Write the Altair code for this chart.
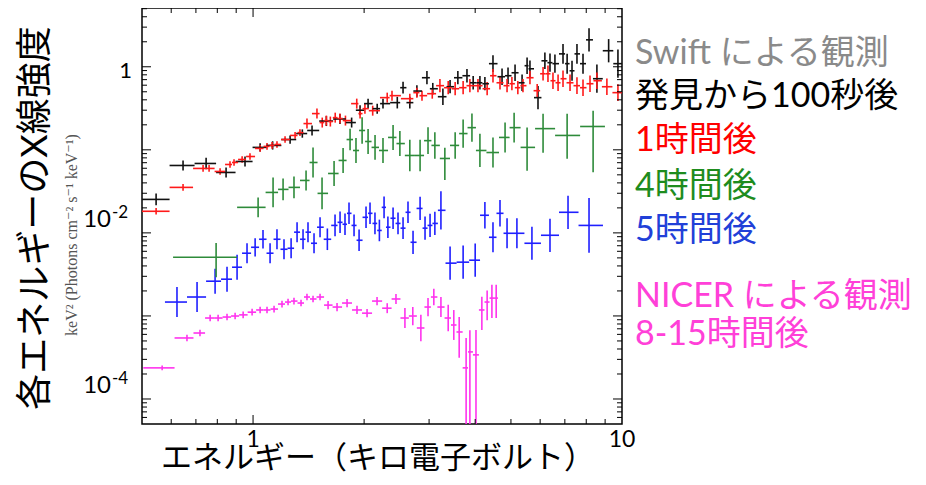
import math
import altair as alt
import pandas as pd

# ---------------- data ----------------
# Swift, 100 s after discovery (black)
black_x = [0.546, 0.646, 0.746, 0.845, 0.951, 1.045, 1.13, 1.26, 1.36, 1.445, 1.58, 1.72, 1.85, 1.95,
           2.05, 2.17, 2.25, 2.46, 2.55, 2.66, 2.78, 2.96, 3.07, 3.27, 3.42, 3.59, 3.80, 3.95, 4.12,
           4.25, 4.47, 4.73, 4.91, 5.13, 5.36, 5.53, 5.63, 5.92, 6.18, 6.38, 6.58, 6.92, 7.10, 7.32,
           7.55, 7.84, 8.14, 8.55, 9.20, 9.75]
black_y = [0.0253, 0.0648, 0.0685, 0.0534, 0.0724, 0.107, 0.113, 0.133, 0.157, 0.171, 0.222, 0.235,
           0.213, 0.300, 0.360, 0.313, 0.360, 0.370, 0.560, 0.370, 0.510, 0.738, 0.544, 0.436, 0.575,
           0.738, 0.780, 0.642, 0.642, 0.625, 1.09, 0.759, 0.780, 0.847, 0.642, 1.03, 0.946, 0.425,
           1.18, 1.12, 1.09, 1.43, 1.09, 0.895, 1.43, 1.09, 2.11, 0.718, 1.56, 1.09]
black_err = [0.07, 0.06, 0.07, 0.06, 0.06, 0.05, 0.05, 0.05, 0.05, 0.06, 0.06, 0.06, 0.06, 0.06,
             0.06, 0.06, 0.06, 0.07, 0.07, 0.07, 0.07, 0.08, 0.07, 0.10, 0.08, 0.08, 0.08, 0.08, 0.08,
             0.08, 0.10, 0.10, 0.10, 0.10, 0.10, 0.10, 0.10, 0.14, 0.10, 0.11, 0.11, 0.12, 0.12, 0.12,
             0.12, 0.12, 0.14, 0.17, 0.14, 0.17]

# Swift, 1 hour after (red)
red_x = [0.546, 0.646, 0.732, 0.760, 0.814, 0.866, 0.888, 0.934, 0.981, 1.045, 1.091, 1.126, 1.161,
         1.221, 1.30, 1.34, 1.40, 1.49, 1.54, 1.58, 1.62, 1.67, 1.72, 1.78, 1.91, 1.95, 2.01, 2.11,
         2.31, 2.38, 2.66, 2.78, 2.87, 3.06, 3.21, 3.38, 3.53, 3.71, 3.87, 4.07, 4.31, 4.47, 4.67,
         4.88, 5.03, 5.22, 5.39, 5.63, 5.89, 6.11, 6.30, 6.50, 6.71, 6.92, 7.23, 7.55, 7.84, 8.19,
         8.55, 9.10, 9.75]
red_y = [0.0182, 0.0353, 0.0597, 0.0597, 0.0549, 0.0666, 0.0704, 0.0765, 0.0831, 0.104, 0.110, 0.113,
         0.116, 0.133, 0.149, 0.161, 0.207, 0.273, 0.213, 0.225, 0.219, 0.244, 0.238, 0.225, 0.360,
         0.273, 0.313, 0.296, 0.425, 0.449, 0.413, 0.488, 0.449, 0.474, 0.592, 0.560, 0.544, 0.560,
         0.592, 0.592, 0.544, 0.780, 0.642, 0.592, 0.625, 0.560, 0.592, 0.738, 0.515, 0.824, 0.824,
         0.679, 0.642, 0.718, 0.642, 0.592, 0.560, 0.625, 0.679, 0.575, 0.488]
red_err = [0.04] * 16 + [0.06] * 18 + [0.08] * 16 + [0.10] * 11

# Swift, 4 hours after (green)
green_x = [0.794, 1.032, 1.133, 1.206, 1.291, 1.392, 1.454, 1.538, 1.658, 1.754, 1.832, 1.901, 1.975,
           2.05, 2.141, 2.25, 2.396, 2.50, 2.66, 2.836, 2.98, 3.11, 3.31, 3.53, 3.71, 3.92, 4.12,
           4.47, 4.82, 5.10, 5.53, 6.11, 7.10, 8.35]
green_y = [0.00509, 0.0203, 0.0307, 0.0334, 0.0353, 0.0428, 0.0704, 0.0299, 0.0519, 0.0745, 0.133,
           0.0982, 0.171, 0.126, 0.107, 0.0982, 0.141, 0.119, 0.0855, 0.0855, 0.129, 0.113, 0.0787,
           0.113, 0.157, 0.185, 0.0982, 0.0928, 0.141, 0.185, 0.107, 0.180, 0.149, 0.191]
green_up = [0.17, 0.12, 0.18, 0.13, 0.13, 0.12, 0.18, 0.19, 0.15, 0.15, 0.13, 0.15, 0.16, 0.15, 0.15,
            0.15, 0.15, 0.15, 0.19, 0.19, 0.16, 0.16, 0.13, 0.16, 0.17, 0.17, 0.20, 0.18, 0.18, 0.18,
            0.24, 0.18, 0.26, 0.19]
green_dn = [0.24, 0.12, 0.18, 0.13, 0.13, 0.12, 0.18, 0.19, 0.15, 0.15, 0.13, 0.15, 0.16, 0.15, 0.15,
            0.15, 0.15, 0.15, 0.19, 0.19, 0.16, 0.16, 0.26, 0.16, 0.17, 0.17, 0.20, 0.18, 0.18, 0.18,
            0.28, 0.29, 0.28, 0.55]

# Swift, 5 hours after (blue)
blue_x = [0.622, 0.705, 0.789, 0.850, 0.905, 0.963, 1.013, 1.064, 1.112, 1.161, 1.213, 1.268, 1.316,
          1.366, 1.409, 1.463, 1.519, 1.590, 1.668, 1.721, 1.775, 1.82, 1.878, 1.938, 2.024, 2.075,
          2.14, 2.20, 2.265, 2.32, 2.396, 2.471, 2.55, 2.63, 2.714, 2.836, 2.925, 3.018, 3.11, 3.23,
          3.42, 3.71, 4.00, 4.25, 4.47, 4.67, 4.88, 5.19, 5.70, 6.38, 7.14, 8.14]
blue_y = [0.00147, 0.00169, 0.00262, 0.00277, 0.00386, 0.00569, 0.00671, 0.00838, 0.00569, 0.00838,
          0.00635, 0.00653, 0.0102, 0.00838, 0.0102, 0.00750, 0.0117, 0.00838, 0.0123, 0.0134,
          0.0127, 0.0172, 0.0123, 0.00815, 0.0154, 0.0172, 0.0130, 0.0107, 0.0203, 0.0117, 0.0150,
          0.0130, 0.0114, 0.0177, 0.00771, 0.0197, 0.0114, 0.0123, 0.0130, 0.0187, 0.00432, 0.00444,
          0.00469, 0.0163, 0.00885, 0.0172, 0.00989, 0.00989, 0.00750, 0.00936, 0.0177, 0.0123]
blue_err = [0.18, 0.18, 0.15, 0.15, 0.15, 0.12, 0.11, 0.11, 0.12, 0.12, 0.12, 0.12, 0.12, 0.12, 0.12,
            0.12, 0.12, 0.13, 0.13, 0.13, 0.13, 0.13, 0.13, 0.13, 0.13, 0.13, 0.13, 0.13, 0.13, 0.13,
            0.13, 0.13, 0.13, 0.13, 0.14, 0.14, 0.14, 0.14, 0.14, 0.23, 0.20, 0.20, 0.20, 0.16, 0.18,
            0.16, 0.18, 0.18, 0.20, 0.20, 0.20, 0.33]

# NICER, 8-15 hours after (magenta)
mag_x = [0.567, 0.662, 0.718, 0.765, 0.804, 0.850, 0.894, 0.940, 0.994, 1.045, 1.091, 1.140, 1.198,
         1.244, 1.291, 1.349, 1.400, 1.454, 1.519, 1.597, 1.689, 1.798, 1.913, 2.037, 2.168, 2.31,
         2.44, 2.58, 2.71, 2.85, 2.98, 3.09, 3.23, 3.38, 3.50, 3.62, 3.78, 3.87, 4.02, 4.17, 4.31,
         4.44, 4.56]
mag_y = [2.37e-4, 5.43e-4, 6.23e-4, 9.44e-4, 9.44e-4, 9.70e-4, 9.98e-4, 1.03e-3, 1.11e-3, 1.18e-3,
         1.18e-3, 1.21e-3, 1.39e-3, 1.47e-3, 1.51e-3, 1.43e-3, 1.69e-3, 1.60e-3, 1.69e-3, 1.35e-3,
         1.28e-3, 1.43e-3, 1.18e-3, 1.08e-3, 1.51e-3, 1.24e-3, 1.60e-3, 9.44e-4, 9.98e-4, 7.16e-4,
         1.28e-3, 1.69e-3, 1.28e-3, 9.44e-4, 7.78e-4, 6.41e-4, 2.37e-4, 3.69e-4, 3.40e-4, 1.18e-3,
         1.47e-3, 1.64e-3, 1.64e-3]
mag_up = [0.03] + [0.04] * 18 + [0.05] * 6 + [0.06, 0.06, 0.12, 0.11, 0.16, 0.11, 0.10, 0.12, 0.16,
                                              0.18, 0.18, 0.36, 0.26, 0.30, 0.16, 0.14, 0.16, 0.16]
mag_dn = [0.03] + [0.04] * 18 + [0.05] * 6 + [0.06, 0.06, 0.12, 0.11, 0.16, 0.11, 0.10, 0.12, 0.16,
                                              0.18, 0.31, 3.0, 3.0, 3.0, 0.24, 0.22, 0.24, 0.24]

# outer energy-bin edges of each spectrum (keV)
first_lo = {"black": 0.50, "red": 0.50, "green": 0.607, "blue": 0.577, "magenta": 0.504}
last_hi = {"black": 10.0, "red": 10.0, "green": 8.99, "blue": 8.88, "magenta": 4.61}

series_names = ["magenta", "blue", "green", "black", "red"]
mark_colors = ["#ff33ee", "#1f1fff", "#2e8b3a", "#111111", "#ff1a1a"]

legend_lines = ["Swift による観測", "発見から100秒後", "1時間後", "4時間後", "5時間後",
                "NICER による観測", "8-15時間後"]
legend_colors = ["#8a8a8a", "#000000", "#ff0000", "#1e8c1e", "#2140d8", "#ff40d8", "#ff40d8"]
legend_y = [46, 89, 133, 179, 223, 289, 327]

x_title = "エネルギー（キロ電子ボルト）"
y_title = "各エネルギーのX線強度"
y_unit = "keV² (Photons cm⁻² s⁻¹ keV⁻¹)"

x_label_vals = [1.0, 10.0]
x_label_text = ["1", "10"]
y_label_vals = [1.0, 0.01, 0.0001]
y_label_base = ["1", "10", "10"]
y_label_exp = ["", "-2", "-4"]

x_minor = [0.6, 0.7, 0.8, 0.9, 2, 3, 4, 5, 6, 7, 8, 9]
x_major = [1]
y_major = [1e-4, 1e-3, 1e-2, 1e-1, 1.0]
y_minor = [k * 10.0 ** d for d in range(-5, 1) for k in range(2, 10) if 5.5e-5 < k * 10.0 ** d < 5.1]


# ---------------- build table ----------------
def build(name, xs, ys, up, dn):
    rows = []
    n = len(xs)
    for i in range(n):
        lo = first_lo[name] if i == 0 else math.sqrt(xs[i - 1] * xs[i])
        hi = last_hi[name] if i == n - 1 else math.sqrt(xs[i] * xs[i + 1])
        rows.append({"s": name, "x": xs[i], "xlo": lo, "xhi": hi, "y": ys[i],
                     "ylo": ys[i] * 10 ** (-dn[i]), "yhi": ys[i] * 10 ** (up[i])})
    return rows


rows = []
rows += build("magenta", mag_x, mag_y, mag_up, mag_dn)
rows += build("blue", blue_x, blue_y, blue_err, blue_err)
rows += build("green", green_x, green_y, green_up, green_dn)
rows += build("black", black_x, black_y, black_err, black_err)
rows += build("red", red_x, red_y, red_err, red_err)
df = pd.DataFrame(rows)
df["order"] = range(len(df))

W, H = 480, 416
NUM = "Lato, 'Noto Sans CJK JP'"
JP = "'Noto Sans CJK JP'"

xs = alt.Scale(type="log", domain=[0.5, 10], nice=False)
ys = alt.Scale(type="log", domain=[5e-5, 5.1], nice=False)
col = alt.Color("s:N", scale=alt.Scale(domain=series_names, range=mark_colors), legend=None)

vbars = alt.Chart(df).mark_rule(strokeWidth=1.6, clip=True).encode(
    x=alt.X("x:Q", scale=xs, axis=None),
    y=alt.Y("ylo:Q", scale=ys, axis=None),
    y2="yhi:Q",
    color=col,
    order="order:Q",
)
hbars = alt.Chart(df).mark_rule(strokeWidth=1.6, clip=True).encode(
    x=alt.X("xlo:Q", scale=xs, axis=None),
    x2="xhi:Q",
    y=alt.Y("y:Q", scale=ys, axis=None),
    color=col,
    order="order:Q",
)


# inward ticks on all four sides
def xticks(vals, length):
    d = pd.DataFrame({"v": vals})
    bot = alt.Chart(d).mark_rule(color="black", strokeWidth=1).encode(
        x=alt.X("v:Q", scale=xs, axis=None), y=alt.value(H), y2=alt.value(H - length))
    top = alt.Chart(d).mark_rule(color="black", strokeWidth=1).encode(
        x=alt.X("v:Q", scale=xs, axis=None), y=alt.value(0), y2=alt.value(length))
    return [bot, top]


def yticks(vals, length):
    d = pd.DataFrame({"v": vals})
    left = alt.Chart(d).mark_rule(color="black", strokeWidth=1).encode(
        y=alt.Y("v:Q", scale=ys, axis=None), x=alt.value(0), x2=alt.value(length))
    right = alt.Chart(d).mark_rule(color="black", strokeWidth=1).encode(
        y=alt.Y("v:Q", scale=ys, axis=None), x=alt.value(W), x2=alt.value(W - length))
    return [left, right]


tick_layers = xticks(x_minor, 5) + xticks(x_major, 9) + yticks(y_minor, 5) + yticks(y_major, 9)

# x tick labels
xlab = pd.DataFrame({"v": x_label_vals, "t": x_label_text})
xlab_layer = alt.Chart(xlab).mark_text(
    align="center", baseline="middle", fontSize=23, font=NUM, color="black").encode(
    x=alt.X("v:Q", scale=xs, axis=None), y=alt.value(H + 16), text="t:N")

# y tick labels (base and exponent)
ylab = pd.DataFrame({"v": y_label_vals, "base": y_label_base, "exp": y_label_exp})
ylab_one = alt.Chart(ylab[ylab["exp"] == ""]).mark_text(
    align="right", baseline="middle", fontSize=22, font=NUM, color="black", dy=4).encode(
    y=alt.Y("v:Q", scale=ys, axis=None), x=alt.value(-10), text="base:N")
ylab_base = alt.Chart(ylab[ylab["exp"] != ""]).mark_text(
    align="right", baseline="middle", fontSize=24, font=NUM, color="black", dy=-13).encode(
    y=alt.Y("v:Q", scale=ys, axis=None), x=alt.value(-31), text="base:N")
ylab_exp = alt.Chart(ylab[ylab["exp"] != ""]).mark_text(
    align="left", baseline="middle", fontSize=17, font=NUM, color="black", dy=-20).encode(
    y=alt.Y("v:Q", scale=ys, axis=None), x=alt.value(-30), text="exp:N")


# titles
def text_layer(txt, x, y, size, color, font, angle=0, align="left"):
    kw = dict(align=align, baseline="middle", fontSize=size, color=color, font=font)
    if angle:
        kw["angle"] = angle
    return alt.Chart(alt.Data(values=[{"t": txt}])).mark_text(**kw).encode(
        x=alt.value(x), y=alt.value(y), text="t:N")


title_layers = [
    text_layer(x_title, 236, 451, 31, "black", JP, align="center"),
    text_layer(y_title, -106, 210, 36, "black", NUM, angle=270, align="center"),
    text_layer(y_unit, -70, 227, 16, "#555555", "'Liberation Serif', 'DejaVu Serif', serif",
               angle=270, align="center"),
]
legend_layers = [text_layer(t, 493, yy, 34, c, NUM) for t, c, yy in zip(legend_lines, legend_colors, legend_y)]

chart = alt.layer(
    vbars, hbars, *tick_layers, xlab_layer, ylab_one, ylab_base, ylab_exp, *title_layers, *legend_layers
).properties(
    width=W, height=H,
    autosize=alt.AutoSizeParams(type="none"),
    padding={"left": 134, "top": 0, "right": 292, "bottom": 53},
    background="white",
).configure_view(stroke="black", strokeWidth=1.5)

chart.save("out.html", embed_options={"renderer": "svg", "actions": False})
